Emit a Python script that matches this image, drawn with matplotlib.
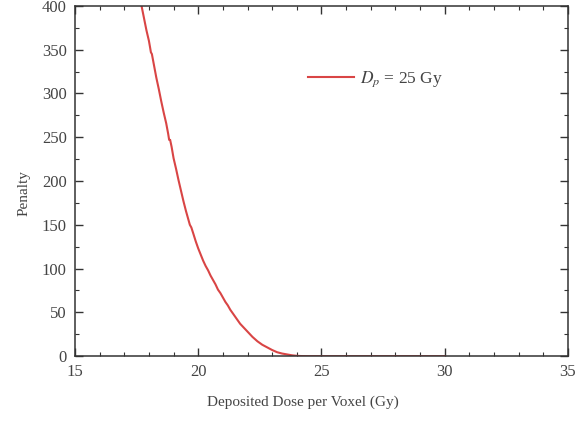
import matplotlib
matplotlib.use("Agg")
import matplotlib.pyplot as plt
from matplotlib.ticker import MultipleLocator

# Penalty vs. deposited dose per voxel (prescription 25 Gy)
dose = [17.70, 17.80, 17.90, 18.00, 18.05, 18.08, 18.12, 18.20, 18.30, 18.40,
        18.50, 18.60, 18.70, 18.78, 18.82, 18.86, 18.92, 19.00, 19.10, 19.20,
        19.30, 19.40, 19.50, 19.60, 19.66, 19.72, 19.80, 19.90, 20.00, 20.10,
        20.20, 20.30, 20.40, 20.50, 20.60, 20.70, 20.80, 20.90, 21.00, 21.10,
        21.20, 21.30, 21.40, 21.50, 21.60, 21.70, 21.80, 21.90, 22.00, 22.20,
        22.40, 22.60, 22.80, 23.00, 23.20, 23.40, 23.60, 23.80, 24.00, 24.20,
        24.50, 25.00, 26.00, 27.00, 28.00, 29.00, 30.00]
penalty = [400, 386, 372, 360, 352, 347, 345, 333, 318, 305,
           291, 278, 266, 254, 247, 247, 239, 226, 214, 201,
           189, 177, 166, 156, 150, 147, 140, 131, 123, 116,
           109, 103, 98, 92, 87, 82, 76, 72, 67, 62,
           58, 53, 49, 45, 41, 37, 34, 31, 28, 22,
           17, 13, 10, 7, 4.5, 3, 2, 1, 0.4, 0.1,
           0, 0, 0, 0, 0, 0, 0]

plt.rcParams['font.family'] = ['Liberation Serif', 'DejaVu Serif']
plt.rcParams['mathtext.fontset'] = 'stix'
txt = '#444444'

fig = plt.figure(figsize=(5.79, 4.21), dpi=100)
ax = fig.add_axes([0.1295, 0.154, 0.8515, 0.832])

ax.plot(dose, penalty, color='#d94545', lw=1.5, label=r'$D_p$ = 25 Gy')

ax.set_xlim(15, 35)
ax.set_ylim(0, 400)
ax.xaxis.set_major_locator(MultipleLocator(5))
ax.xaxis.set_minor_locator(MultipleLocator(1))
ax.yaxis.set_major_locator(MultipleLocator(50))
ax.yaxis.set_minor_locator(MultipleLocator(25))
ax.tick_params(which='both', direction='in', top=True, right=True,
               colors='#333333', labelcolor=txt, labelsize=12)
ax.tick_params(which='major', length=6, width=1.0, pad=6)
ax.tick_params(which='minor', length=3, width=0.8)
for s in ax.spines.values():
    s.set_color('#333333')
    s.set_linewidth(1.1)

ax.set_xlabel('Deposited Dose per Voxel (Gy)', fontsize=11, color=txt)
ax.set_ylabel('Penalty', fontsize=11, color=txt)
ax.xaxis.set_label_coords(0.463, -0.112)
ax.yaxis.set_label_coords(-0.09, 0.466)

ax.legend(loc='center left', bbox_to_anchor=(0.44, 0.79), frameon=False,
          fontsize=12.5, handlelength=2.7, handletextpad=0.3, labelcolor=txt)

fig.savefig('out.png', dpi=100)
